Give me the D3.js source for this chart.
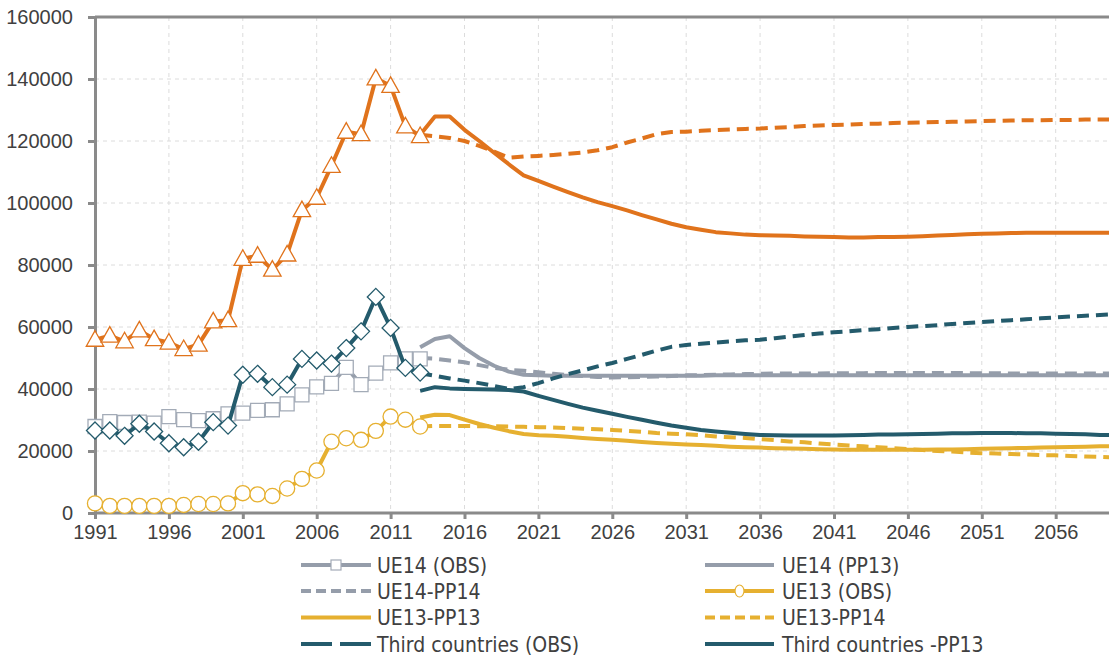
<!DOCTYPE html>
<html>
<head>
<meta charset="utf-8">
<script src="https://cdn.jsdelivr.net/npm/d3@7"></script>
<style>
  body { margin: 0; background: #fff; }
  svg { display: block; font-family: "DejaVu Sans Condensed", "DejaVu Sans", sans-serif; font-stretch: condensed; }
  .grid line { stroke: #dcdcdc; stroke-dasharray: 4,4; stroke-width: 1; }
  .axis path, .axis line { stroke: #8a8a8a; stroke-width: 3; }
  .axis text { fill: #404040; font-size: 20px; }
  .legend text { fill: #404040; font-size: 21px; }
</style>
</head>
<body>
<svg id="chart" width="1109" height="659"></svg>
<script>
// years
var obs_years = d3.range(1991, 2014);
var proj_years = d3.range(2013, 2061);
var tick_years = [1991, 1996, 2001, 2006, 2011, 2016, 2021, 2026, 2031, 2036, 2041, 2046, 2051, 2056];
var y_ticks = [0, 20000, 40000, 60000, 80000, 100000, 120000, 140000, 160000];

// total (orange)
var total_obs = [55900, 57200, 55400, 58900, 56100, 55000, 52900, 54300, 61800, 62200, 82000, 83000, 78500,
  83400, 97700, 101700, 112000, 123000, 122200, 140200, 137800, 124700, 121600];
var total_pp13 = [122000, 127900, 127900, 123600, 120000, 116200, 112500, 108900, 107100, 105300, 103500, 101800,
  100300, 99000, 97600, 96100, 94700, 93300, 92200, 91400, 90600, 90200, 89800, 89600, 89500, 89400, 89200, 89100,
  89000, 88900, 88900, 89000, 89000, 89100, 89300, 89500, 89700, 89900, 90100, 90200, 90300, 90400, 90400, 90400,
  90400, 90400, 90400, 90400];
var total_pp14 = [122000, 121500, 121000, 120000, 118400, 116600, 114600, 115000, 115200, 115500, 115900, 116300,
  117000, 118000, 119500, 120800, 122200, 122900, 123000, 123300, 123500, 123700, 123900, 124000, 124300, 124500,
  124800, 125000, 125200, 125300, 125500, 125600, 125800, 125900, 126000, 126100, 126200, 126300, 126400, 126500,
  126600, 126700, 126700, 126800, 126800, 126900, 126900, 126900];

// UE14 (grey)
var ue14_obs = [27900, 29500, 29200, 29300, 29000, 31100, 30100, 29800, 30400, 32000, 32200, 33100, 33300,
  35200, 38100, 40700, 41800, 47000, 41400, 45100, 48400, 49700, 49700];
var ue14_pp13 = [53500, 56100, 57000, 53200, 50000, 47500, 45600, 44600, 44400, 44300, 44300, 44300, 44300,
  44300, 44300, 44300, 44300, 44300, 44300, 44300, 44400, 44400, 44400, 44400, 44400, 44400, 44400, 44400,
  44400, 44400, 44400, 44400, 44400, 44400, 44400, 44400, 44400, 44400, 44400, 44400, 44400, 44400, 44400,
  44400, 44400, 44400, 44400, 44400];
var ue14_pp14 = [50000, 49800, 49200, 48600, 47700, 46800, 46200, 45900, 45400, 44900, 44500, 44200, 43900,
  43700, 43800, 43900, 44000, 44200, 44400, 44500, 44600, 44700, 44800, 44900, 45000, 45000, 45000, 45000,
  45100, 45100, 45100, 45200, 45200, 45200, 45200, 45200, 45200, 45100, 45100, 45100, 45000, 45000, 45000,
  45000, 45000, 45000, 45000, 45000];

// UE13 (yellow)
var ue13_obs = [3100, 2300, 2300, 2300, 2300, 2300, 2600, 2900, 2900, 3100, 6400, 6000, 5500,
  7900, 11000, 13700, 23000, 24100, 23600, 26500, 31100, 30100, 27900];
var ue13_pp13 = [30800, 31700, 31600, 30100, 28700, 27500, 26400, 25500, 25100, 24900, 24600, 24200, 23900,
  23600, 23300, 22900, 22600, 22300, 22100, 21900, 21700, 21400, 21200, 21100, 20900, 20800, 20700, 20600,
  20500, 20400, 20400, 20400, 20400, 20400, 20400, 20500, 20500, 20600, 20700, 20800, 20900, 21000, 21100,
  21200, 21300, 21400, 21500, 21600];
var ue13_pp14 = [27900, 28100, 28100, 28100, 28000, 28000, 27900, 27800, 27700, 27600, 27400, 27200, 27000,
  26800, 26500, 26200, 25800, 25600, 25400, 25100, 24700, 24400, 24200, 23800, 23500, 23100, 22800, 22400,
  22100, 21800, 21500, 21200, 20900, 20600, 20300, 20000, 19800, 19500, 19300, 19200, 19000, 18900, 18700,
  18600, 18400, 18200, 18100, 17900];

// third countries (teal)
var third_obs = [26600, 26600, 24900, 28800, 26300, 22500, 21200, 23000, 29300, 28200, 44600, 44900, 40600,
  41400, 49700, 49200, 48200, 53200, 58600, 69700, 59700, 46800, 45300];
var third_pp13 = [39400, 40600, 40200, 40000, 39900, 39800, 39700, 39200, 37800, 36500, 35200, 34000, 33000,
  32000, 31000, 30100, 29100, 28200, 27500, 26800, 26300, 25900, 25500, 25200, 25100, 25000, 25000, 25000,
  25000, 25100, 25200, 25300, 25300, 25400, 25500, 25600, 25700, 25700, 25800, 25800, 25800, 25700, 25700,
  25600, 25500, 25400, 25200, 25100];
var third_pp14 = [45100, 44300, 43400, 42700, 41900, 41000, 40000, 40600, 41900, 43400, 44800, 46000, 47300,
  48400, 49700, 51000, 52400, 53600, 54200, 54600, 55000, 55400, 55700, 55900, 56400, 56900, 57400, 57900,
  58300, 58600, 59000, 59300, 59700, 60000, 60300, 60600, 61000, 61300, 61600, 61900, 62200, 62500, 62800,
  63100, 63400, 63600, 63900, 64100];

var legend_left = ["UE14 (OBS)", "UE14-PP14", "UE13-PP13", "Third countries (OBS)"];
var legend_right = ["UE14 (PP13)", "UE13 (OBS)", "UE13-PP14", "Third countries -PP13"];

var ORANGE = "#e0731c", TEAL = "#245b6c", GREY = "#959daa", GREY_MK = "#a3abb7", YELLOW = "#e6b030";

var svg = d3.select("#chart");
var x = d3.scaleLinear().domain([1991, 2060]).range([95, 1114.8]);
var y = d3.scaleLinear().domain([0, 160000]).range([513, 17]);

// grid
var grid = svg.append("g").attr("class", "grid");
grid.selectAll(".gy").data(y_ticks.slice(1, -1)).enter().append("line")
    .attr("x1", x(1991)).attr("x2", 1109)
    .attr("y1", d => y(d)).attr("y2", d => y(d));
grid.selectAll(".gx").data(tick_years.slice(1)).enter().append("line")
    .attr("x1", d => x(d)).attr("x2", d => x(d))
    .attr("y1", y(160000)).attr("y2", y(0));

// top border
svg.append("line")
    .attr("x1", x(1991)).attr("x2", 1109)
    .attr("y1", y(160000)).attr("y2", y(160000))
    .attr("stroke", "#8a8a8a").attr("stroke-width", 3);

// axes
svg.append("g").attr("class", "axis")
    .attr("transform", "translate(" + x(1991) + ",0)")
    .call(d3.axisLeft(y).tickValues(y_ticks).tickFormat(d3.format("d")).tickSize(7).tickPadding(15).tickSizeOuter(0));
svg.append("g").attr("class", "axis")
    .attr("transform", "translate(0," + y(0) + ")")
    .call(d3.axisBottom(x).tickValues(tick_years).tickFormat(d3.format("d")).tickSize(6).tickPadding(6).tickSizeOuter(0))
    .select(".domain").attr("d", "M" + x(1991) + ",0H1109");

function series(years, values) {
    return years.map((yr, i) => ({year: yr, value: values[i]}));
}

var line = d3.line().x(d => x(d.year)).y(d => y(d.value));

function draw_line(data, color, dash) {
    svg.append("path")
        .datum(data)
        .attr("d", line)
        .attr("fill", "none")
        .attr("stroke", color)
        .attr("stroke-width", 4)
        .attr("stroke-linejoin", "round")
        .attr("stroke-dasharray", dash ? "12,7" : null);
}

function draw_markers(data, shape, size, color) {
    svg.selectAll(null)
        .data(data)
        .enter()
        .append("path")
        .attr("d", d3.symbol().type(shape).size(size))
        .attr("transform", d => "translate(" + x(d.year) + "," + y(d.value) + ")")
        .attr("fill", "#fff")
        .attr("stroke", color)
        .attr("stroke-width", 1.3);
}

var sq = d3.symbolSquare, circ = d3.symbolCircle;
var diamond = {draw: function(ctx, size) { var r = Math.sqrt(size) / 2; ctx.moveTo(0, -r); ctx.lineTo(r, 0); ctx.lineTo(0, r); ctx.lineTo(-r, 0); ctx.closePath(); }};
var triangle = {draw: function(ctx, size) { var h = Math.sqrt(size) * 0.8, w = h * 1.2; ctx.moveTo(0, -h * 0.62); ctx.lineTo(w / 2, h * 0.45); ctx.lineTo(-w / 2, h * 0.45); ctx.closePath(); }};

// grey UE14
draw_line(series(proj_years, ue14_pp14), GREY, true);
draw_line(series(proj_years, ue14_pp13), GREY, false);
draw_line(series(obs_years, ue14_obs), GREY, false);
draw_markers(series(obs_years, ue14_obs), sq, 196, GREY_MK);

// yellow UE13
draw_line(series(proj_years, ue13_pp14), YELLOW, true);
draw_line(series(proj_years, ue13_pp13), YELLOW, false);
draw_line(series(obs_years, ue13_obs), YELLOW, false);
draw_markers(series(obs_years, ue13_obs), circ, 180, YELLOW);

// teal third countries
draw_line(series(proj_years, third_pp14), TEAL, true);
draw_line(series(proj_years, third_pp13), TEAL, false);
draw_line(series(obs_years, third_obs), TEAL, false);
draw_markers(series(obs_years, third_obs), diamond, 290, TEAL);

// orange total
draw_line(series(proj_years, total_pp14), ORANGE, true);
draw_line(series(proj_years, total_pp13), ORANGE, false);
draw_line(series(obs_years, total_obs), ORANGE, false);
draw_markers(series(obs_years, total_obs), triangle, 330, ORANGE);

// legend
var legend_rows = [565, 591, 617.5, 644];
var left_style = [
    {color: GREY, dash: null, marker: "square"},
    {color: GREY, dash: "10,5", marker: null},
    {color: YELLOW, dash: null, marker: null},
    {color: TEAL, dash: "31,8", marker: null}
];
var right_style = [
    {color: GREY, dash: null, marker: null},
    {color: YELLOW, dash: null, marker: "circle"},
    {color: YELLOW, dash: "10,5", marker: null},
    {color: TEAL, dash: null, marker: null}
];

function add_legend(labels, styles, x0, x1, tx) {
    var g = svg.append("g").attr("class", "legend");
    labels.forEach(function (lab, i) {
        var st = styles[i], ly = legend_rows[i];
        g.append("line")
            .attr("x1", x0).attr("x2", x1).attr("y1", ly).attr("y2", ly)
            .attr("stroke", st.color).attr("stroke-width", 4)
            .attr("stroke-dasharray", st.dash);
        if (st.marker == "square") {
            g.append("rect").attr("x", (x0 + x1) / 2 - 5).attr("y", ly - 5).attr("width", 10).attr("height", 10)
                .attr("fill", "#fff").attr("stroke", GREY_MK).attr("stroke-width", 1.2);
        }
        if (st.marker == "circle") {
            g.append("ellipse").attr("cx", (x0 + x1) / 2).attr("cy", ly).attr("rx", 4.5).attr("ry", 6)
                .attr("fill", "#fff").attr("stroke", YELLOW).attr("stroke-width", 1.2);
        }
        g.append("text").attr("x", tx).attr("y", ly).attr("dy", "0.36em").text(lab);
    });
}
add_legend(legend_left, left_style, 301, 371, 377);
add_legend(legend_right, right_style, 705, 774, 782);
</script>
</body>
</html>
